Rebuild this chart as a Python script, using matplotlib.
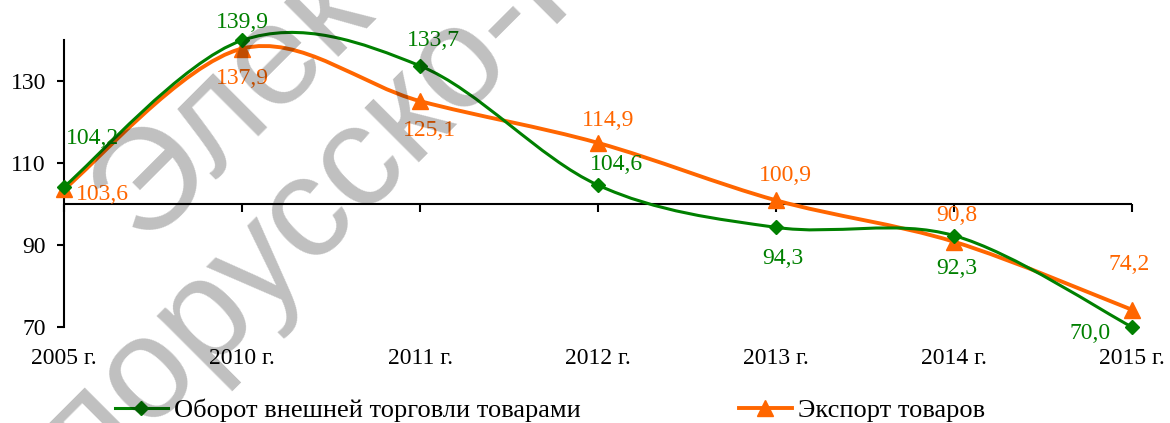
import matplotlib.pyplot as plt
from matplotlib.path import Path
from matplotlib.patches import PathPatch
from matplotlib.lines import Line2D


#Data
years = ["2005 г.", "2010 г.", "2011 г.", "2012 г.", "2013 г.", "2014 г.", "2015 г."]
turnover = [104.2, 139.9, 133.7, 104.6, 94.3, 92.3, 70.0]
export = [103.6, 137.9, 125.1, 114.9, 100.9, 90.8, 74.2]
yticks = [70, 90, 110, 130]

green = "#008000"
orange = "#FF6600"

plt.rcParams['font.family'] = ['Liberation Serif', 'DejaVu Serif']


#Smoothed line like Excel (bezier through the points)
def smooth_path(xs, ys):
    pts = list(zip(xs, ys))
    verts = [pts[0]]
    codes = [Path.MOVETO]
    n = len(pts)
    for i in range(n - 1):
        p0 = pts[max(i - 1, 0)]
        p1 = pts[i]
        p2 = pts[i + 1]
        p3 = pts[min(i + 2, n - 1)]
        c1 = (p1[0] + (p2[0] - p0[0]) / 6, p1[1] + (p2[1] - p0[1]) / 6)
        c2 = (p2[0] - (p3[0] - p1[0]) / 6, p2[1] - (p3[1] - p1[1]) / 6)
        verts += [c1, c2, p2]
        codes += [Path.CURVE4] * 3
    return Path(verts, codes)


fig = plt.figure(figsize=(11.7, 4.23), dpi=100)
ax = fig.add_axes([64 / 1170, 1 - 327 / 423, (1132 - 64) / 1170, 287 / 423])
x = list(range(len(years)))

ax.set_xlim(0, 6)
ax.set_ylim(70, 140)

for s in ['top', 'right', 'bottom']:
    ax.spines[s].set_visible(False)
ax.spines['left'].set_linewidth(1.5)

ax.set_yticks(yticks)
ax.set_yticklabels([str(v) for v in yticks])
ax.tick_params(axis='y', direction='out', length=5, width=1.5, pad=8, labelsize=17)
ax.set_xticks(x)
ax.set_xticklabels(years)
ax.tick_params(axis='x', length=0, pad=15, labelsize=17)

#line at 100 with ticks
ax.axhline(100, color='black', lw=1.5, zorder=1)
ax.plot(x, [100] * len(x), ls='none', marker=3, ms=6, mew=1.5, color='black', clip_on=False, zorder=1)

#Series
ax.add_patch(PathPatch(smooth_path(x, turnover), fill=False, edgecolor=green, lw=2.2, zorder=3, clip_on=False))
ax.plot(x, turnover, ls='none', marker='D', ms=7.5, color=green, zorder=4, clip_on=False)
ax.add_patch(PathPatch(smooth_path(x, export), fill=False, edgecolor=orange, lw=2.8, zorder=2, clip_on=False))
ax.plot(x, export, ls='none', marker='^', ms=11, color=orange, zorder=3, clip_on=False)

#Data labels
g_off = [(28, 48), (0, 18), (13, 25), (18, 21), (7, -31), (3, -33), (-42, -6)]
o_off = [(38, -5), (0, -30), (9, -29), (10, 22), (9, 25), (3, 26), (-3, 45)]
for xi, v, off in zip(x, turnover, g_off):
    ax.annotate(f"{v:.1f}".replace('.', ','), (xi, v), xytext=off, textcoords='offset pixels',
                ha='center', va='center', color=green, fontsize=17, zorder=5)
for xi, v, off in zip(x, export, o_off):
    ax.annotate(f"{v:.1f}".replace('.', ','), (xi, v), xytext=off, textcoords='offset pixels',
                ha='center', va='center', color=orange, fontsize=17, zorder=5)

#Legend
h1 = Line2D([], [], color=green, lw=2.2, marker='D', ms=7.5)
h2 = Line2D([], [], color=orange, lw=2.8, marker='^', ms=11)
fig.legend([h1, h2], ["Оборот внешней торговли товарами", "Экспорт товаров"],
           loc='center', bbox_to_anchor=(0.47, 0.03), ncol=2, frameon=False, fontsize=19,
           handlelength=2.0, handletextpad=0.23, columnspacing=6.0)

#Watermark
wm_font = ['Liberation Sans Narrow', 'Liberation Sans']
fig.text(146 / 1170, 1 - 250 / 423, "Электронная библиотека", family=wm_font, fontsize=104,
         rotation=45, rotation_mode='anchor', ha='left', va='baseline',
         color='black', alpha=0.25, zorder=10)
fig.text(-33 / 1170, 1 - 615 / 423, "Белорусско-Российского университета", family=wm_font, fontsize=104,
         rotation=45, rotation_mode='anchor', ha='left', va='baseline',
         color='black', alpha=0.25, zorder=10)

fig.savefig("out.png", dpi=100)
